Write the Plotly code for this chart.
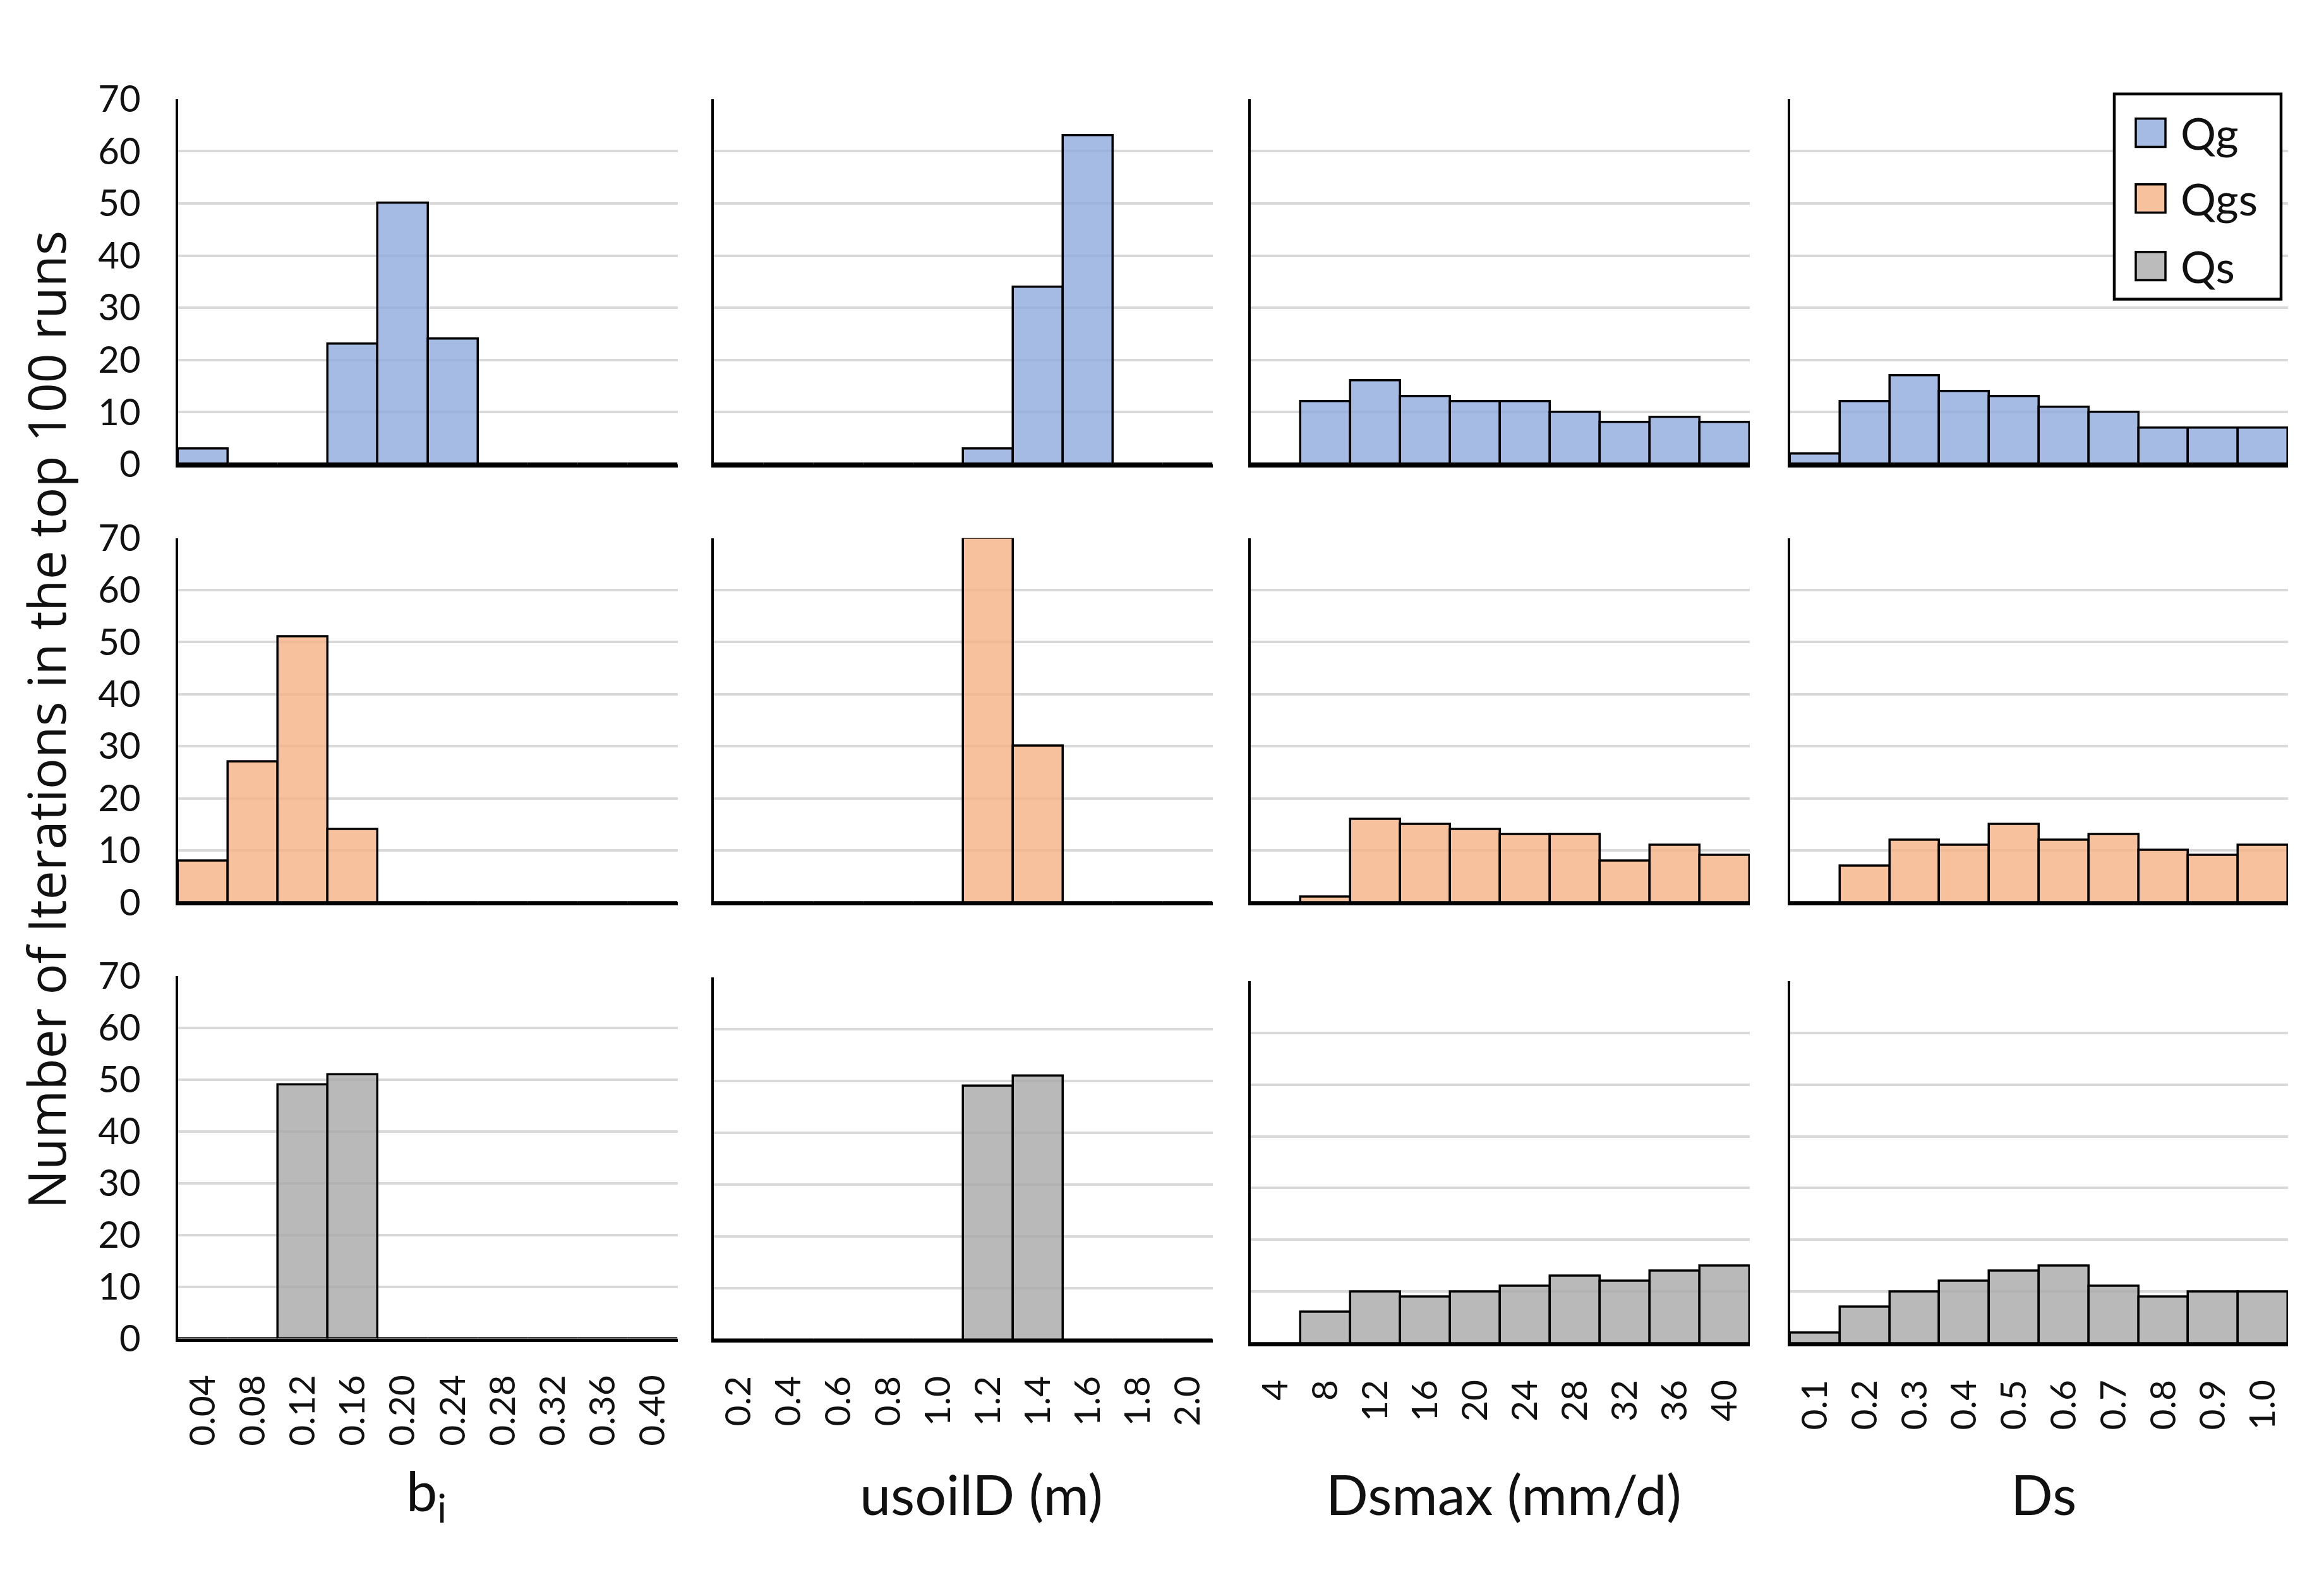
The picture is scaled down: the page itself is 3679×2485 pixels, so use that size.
import plotly.graph_objects as go
from plotly.subplots import make_subplots

W, H = 3679, 2485

# ---- data ----
series_names = ["Qg", "Qgs", "Qs"]

bi_labels = ["0.04", "0.08", "0.12", "0.16", "0.20", "0.24", "0.28", "0.32", "0.36", "0.40"]
usoil_labels = ["0.2", "0.4", "0.6", "0.8", "1.0", "1.2", "1.4", "1.6", "1.8", "2.0"]
dsmax_labels = ["4", "8", "12", "16", "20", "24", "28", "32", "36", "40"]
ds_labels = ["0.1", "0.2", "0.3", "0.4", "0.5", "0.6", "0.7", "0.8", "0.9", "1.0"]

qg_bi = [3, 0, 0, 23, 50, 24, 0, 0, 0, 0]
qgs_bi = [8, 27, 51, 14, 0, 0, 0, 0, 0, 0]
qs_bi = [0, 0, 49, 51, 0, 0, 0, 0, 0, 0]

qg_usoil = [0, 0, 0, 0, 0, 3, 34, 63, 0, 0]
qgs_usoil = [0, 0, 0, 0, 0, 70, 30, 0, 0, 0]
qs_usoil = [0, 0, 0, 0, 0, 49, 51, 0, 0, 0]

qg_dsmax = [0, 12, 16, 13, 12, 12, 10, 8, 9, 8]
qgs_dsmax = [0, 1, 16, 15, 14, 13, 13, 8, 11, 9]
qs_dsmax = [0, 6, 10, 9, 10, 11, 13, 12, 14, 15]

qg_ds = [2, 12, 17, 14, 13, 11, 10, 7, 7, 7]
qgs_ds = [0, 7, 12, 11, 15, 12, 13, 10, 9, 11]
qs_ds = [2, 7, 10, 12, 14, 15, 11, 9, 10, 10]

param_titles = ["b<sub>i</sub>", "usoilD (m)", "Dsmax (mm/d)", "Ds"]
y_title = "Number of Iterations in the top 100 runs"

# ---- style ----
fills = ["rgba(143,170,220,0.8)", "rgba(244,177,131,0.8)", "rgba(168,168,168,0.8)"]
legend_fills = ["#A5BBE3", "#F6C19C", "#BBBBBB"]
FONT = "Lato, Carlito, Calibri, sans-serif"

panels = [
    (bi_labels, [qg_bi, qgs_bi, qs_bi]),
    (usoil_labels, [qg_usoil, qgs_usoil, qs_usoil]),
    (dsmax_labels, [qg_dsmax, qgs_dsmax, qs_dsmax]),
    (ds_labels, [qg_ds, qgs_ds, qs_ds]),
]

col_px = [(282, 1073), (1130, 1920), (1980, 2770), (2834, 3622)]
row_px = [(123, 718), (838, 1431), (1551, 2141)]
row3_shift = [0, 2, 8, 8]
title_px = [675, 1553, 2380, 3235]

fig = make_subplots(rows=3, cols=4)

for c, (labels, series) in enumerate(panels):
    for r, vals in enumerate(series):
        fig.add_trace(
            go.Bar(
                x=labels, y=vals, name=series_names[r],
                marker=dict(color=fills[r], line=dict(color="black", width=3.5)),
                showlegend=False, hoverinfo="x+y",
            ),
            row=r + 1, col=c + 1,
        )

for r in range(3):
    for c in range(4):
        idx = r * 4 + c + 1
        x0, x1 = col_px[c]
        y0, y1 = row_px[r]
        if r == 2:
            y0 += row3_shift[c]
            y1 += row3_shift[c]
        xa = "xaxis" if idx == 1 else f"xaxis{idx}"
        ya = "yaxis" if idx == 1 else f"yaxis{idx}"
        fig.layout[xa].update(
            domain=[x0 / W, x1 / W], type="category", range=[-0.5, 9.5],
            showline=True, linecolor="black", linewidth=4.5, showgrid=False,
            ticks="", tickangle=-90, showticklabels=(r == 2),
            tickfont=dict(family=FONT, size=57, color="#111"),
            ticklabelstandoff=30, zeroline=False, fixedrange=True,
        )
        fig.layout[ya].update(
            domain=[1 - y1 / H, 1 - y0 / H], range=[0, 70], dtick=10,
            showline=True, linecolor="black", linewidth=3.5,
            showgrid=True, gridcolor="#D9D9D9", gridwidth=3.5,
            ticks="", showticklabels=(c == 0), zeroline=False,
            tickfont=dict(family=FONT, size=58, color="#111"),
            ticklabelstandoff=44, fixedrange=True,
        )

annotations = []
for c, t in enumerate(param_titles):
    annotations.append(dict(
        text=t, x=title_px[c] / W, y=1 - 2393 / H, xref="paper", yref="paper",
        showarrow=False, xanchor="center", yanchor="middle",
        font=dict(family=FONT, size=88, color="#111"),
    ))
annotations.append(dict(
    text=y_title, x=72 / W, y=1 - 1134 / H, xref="paper", yref="paper",
    showarrow=False, textangle=-90, xanchor="center", yanchor="middle",
    font=dict(family="Open Sans, Noto Sans, sans-serif", size=82, color="#111"),
))

# legend (drawn as a boxed key)
shapes = [dict(
    type="rect", xref="paper", yref="paper",
    x0=3347 / W, x1=3611 / W, y0=1 - 449 / H, y1=1 - 115 / H,
    line=dict(color="black", width=4.5), fillcolor="white", layer="above",
)]
entry_y = [178, 285, 395]
for i, name in enumerate(series_names):
    cy = entry_y[i]
    shapes.append(dict(
        type="rect", xref="paper", yref="paper",
        x0=3381 / W, x1=3428 / W, y0=1 - (cy + 23) / H, y1=1 - (cy - 23) / H,
        line=dict(color="black", width=3.5), fillcolor=legend_fills[i], layer="above",
    ))
    annotations.append(dict(
        text=name, x=3450 / W, y=1 - cy / H, xref="paper", yref="paper",
        showarrow=False, xanchor="left", yanchor="middle",
        font=dict(family=FONT, size=70, color="#111"),
    ))

fig.update_layout(
    width=W, height=H, margin=dict(l=0, r=0, t=0, b=0),
    paper_bgcolor="white", plot_bgcolor="white",
    bargap=0, barmode="overlay", showlegend=False,
    annotations=annotations, shapes=shapes,
)

fig.write_html(
    "out.html",
    config={"displayModeBar": False},
    post_script="document.body.style.margin='0';",
)
